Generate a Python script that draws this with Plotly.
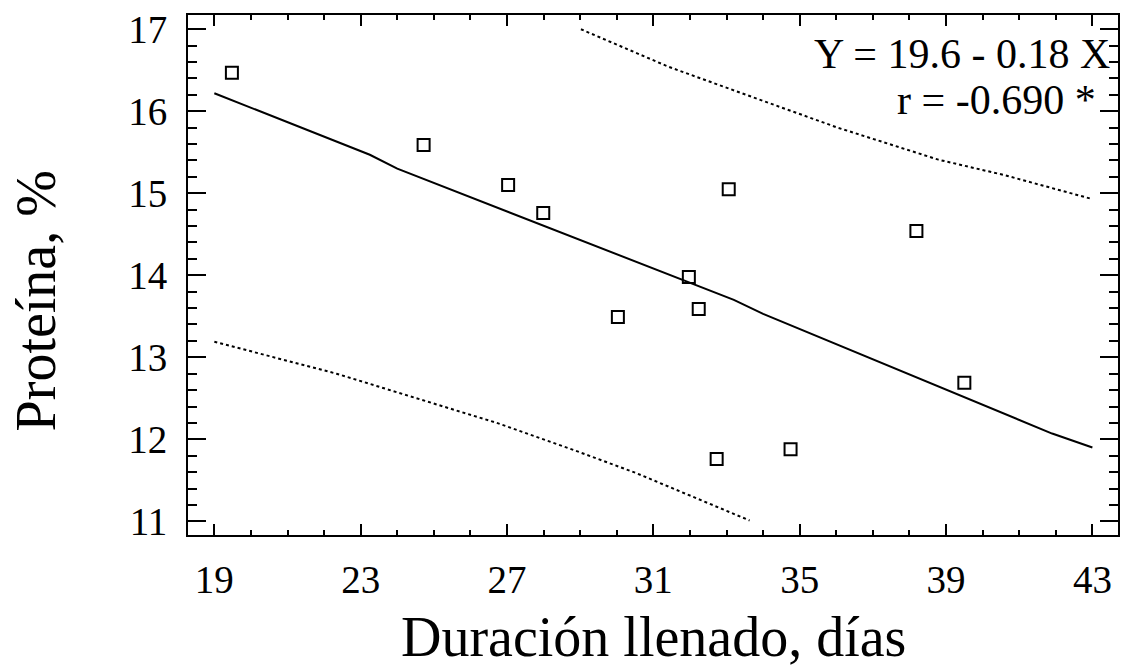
import plotly.graph_objects as go

dias = [19.48, 24.72, 27.03, 27.99, 30.03, 31.97, 32.24, 33.06, 32.73, 34.75, 38.19, 39.5]
proteina = [16.47, 15.59, 15.10, 14.76, 13.49, 13.98, 13.59, 15.05, 11.76, 11.88, 14.54, 12.69]

# Regression line (as drawn)
reg_x = [19, 23.25, 24, 33.2, 34, 41.9, 43]
reg_y = [16.22, 15.47, 15.30, 13.70, 13.53, 12.07, 11.90]

# Confidence limits (dotted)
upper_x = [29.02, 31.43, 33.79, 36.04, 38.79, 40.61, 42.99]
upper_y = [17.0, 16.54, 16.16, 15.80, 15.41, 15.22, 14.93]
lower_x = [19.0, 22.34, 26.72, 28.88, 30.52, 32.05, 33.63]
lower_y = [13.19, 12.80, 12.20, 11.86, 11.59, 11.30, 11.01]

eq_text = "Y = 19.6 - 0.18 X"
r_text = "r = -0.690 *"
x_title = "Duración llenado, días"
y_title = "Proteína, %"

FONT = "Liberation Serif"

fig = go.Figure()
fig.add_trace(go.Scatter(x=upper_x, y=upper_y, mode="lines",
                         line=dict(color="black", width=2, dash="dot"), showlegend=False))
fig.add_trace(go.Scatter(x=lower_x, y=lower_y, mode="lines",
                         line=dict(color="black", width=2, dash="dot"), showlegend=False))
fig.add_trace(go.Scatter(x=reg_x, y=reg_y, mode="lines",
                         line=dict(color="black", width=2), showlegend=False))
fig.add_trace(go.Scatter(x=dias, y=proteina, mode="markers",
                         marker=dict(symbol="square-open", size=12, color="black",
                                     line=dict(width=2, color="black")),
                         showlegend=False))

fig.update_layout(
    width=1123, height=668,
    margin=dict(l=188, r=3, t=15, b=133),
    plot_bgcolor="white", paper_bgcolor="white",
    font=dict(family=FONT, color="black", size=39),
    xaxis=dict(range=[18.28, 43.70], tick0=19, dtick=4, ticks="inside",
               ticklen=11, tickwidth=2, tickcolor="black",
               showline=True, linewidth=2, linecolor="black", mirror="allticks",
               showgrid=False, zeroline=False, ticklabelstandoff=9,
               tickfont=dict(family=FONT, size=39),
               minor=dict(tick0=19, dtick=1, ticks="inside", ticklen=5,
                          tickwidth=2, tickcolor="black", showgrid=False)),
    yaxis=dict(range=[10.833, 17.174], tick0=11, dtick=1, ticks="inside",
               ticklen=18, tickwidth=2, tickcolor="black",
               showline=True, linewidth=2, linecolor="black", mirror="allticks",
               showgrid=False, zeroline=False, ticklabelstandoff=11,
               tickfont=dict(family=FONT, size=39),
               minor=dict(tick0=11, dtick=0.2, ticks="inside", ticklen=9,
                          tickwidth=2, tickcolor="black", showgrid=False)),
    annotations=[
        dict(text=eq_text, xref="paper", yref="paper", x=0.994, y=0.925,
             xanchor="right", yanchor="middle", showarrow=False,
             font=dict(family=FONT, size=42, color="black")),
        dict(text=r_text, xref="paper", yref="paper", x=0.978, y=0.836,
             xanchor="right", yanchor="middle", showarrow=False,
             font=dict(family=FONT, size=42, color="black")),
        dict(text=x_title, xref="paper", yref="paper", x=0.5, y=-0.196,
             xanchor="center", yanchor="middle", showarrow=False,
             font=dict(family=FONT, size=56, color="black")),
        dict(text=y_title, xref="paper", yref="paper", x=-0.163, y=0.45,
             xanchor="center", yanchor="middle", showarrow=False, textangle=-90,
             font=dict(family=FONT, size=56, color="black")),
    ],
)

fig.write_html("out.html")
